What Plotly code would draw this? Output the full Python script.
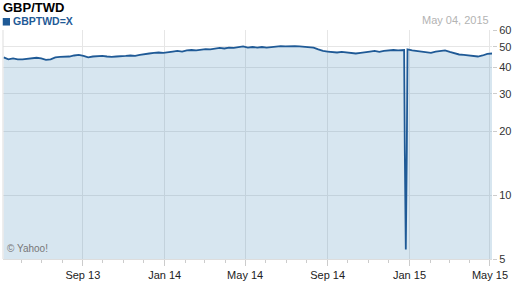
import math
import pandas as pd
import plotly.graph_objects as go

# ---- data ----
weekly_start = "2013-05-06"
rate_values = [
    44.6, 43.6, 44.1, 43.6, 43.6, 43.8, 44.3, 44.4, 44.1, 43.4,
    43.6, 44.6, 44.8, 44.8, 45.0, 45.5, 45.8, 45.3, 44.6, 45.0,
    45.3, 45.3, 45.0, 44.8, 45.0, 45.3, 45.3, 45.5, 45.3, 45.8,
    46.3, 46.5, 46.8, 47.0, 46.8, 47.3, 47.5, 47.8, 47.5, 48.1,
    48.3, 48.1, 48.6, 48.8, 48.6, 49.1, 49.4, 49.1, 49.6, 49.4,
    49.9, 50.2, 49.6, 49.9, 49.6, 49.9, 49.6, 49.9, 50.2, 50.4,
    50.2, 50.4, 50.4, 50.2, 49.9, 49.9, 49.6, 48.6, 47.8, 47.5,
    47.3, 47.0, 47.3, 47.0, 46.8, 46.5, 46.8, 47.3, 47.5, 47.8,
    47.3, 47.8, 48.1, 48.3, 48.1, 48.3, 48.6, 48.1, 47.8, 47.5,
    47.0, 46.8, 47.5, 47.8, 48.1, 47.3, 46.5, 46.0, 45.8, 45.5,
    45.3, 45.0, 45.5, 46.3, 46.5,
]
spike_dates = ["2014-12-24 00:00", "2014-12-25 00:00", "2014-12-26 12:00", "2014-12-28 00:00"]
spike_values = [48.3, 16.4, 5.55, 16.4]

x_tick_dates = ["2013-09-01", "2014-01-01", "2014-05-01", "2014-09-01", "2015-01-01", "2015-05-01"]
x_tick_labels = ["Sep 13", "Jan 14", "May 14", "Sep 14", "Jan 15", "May 15"]
y_tick_values = [5, 10, 20, 30, 40, 50, 60]
y_tick_labels = ["5", "10", "20", "30", "40", "50", "60"]

# ---- build series ----
weekly_dates = pd.date_range(weekly_start, periods=len(rate_values), freq="7D")
df = pd.concat([
    pd.DataFrame({"date": weekly_dates, "rate": rate_values}),
    pd.DataFrame({"date": pd.to_datetime(spike_dates), "rate": spike_values}),
]).sort_values("date")

FONT = "Liberation Sans, Arial, sans-serif"
BLUE = "#1f5a96"

fig = go.Figure()
fig.add_trace(go.Scatter(
    x=df["date"], y=df["rate"], mode="lines",
    line=dict(color=BLUE, width=1.8),
    fill="tozeroy", fillcolor="rgba(55,130,180,0.2)",
    showlegend=False, hoverinfo="skip",
))

fig.update_layout(
    width=512, height=288,
    margin=dict(l=3, r=20, t=30, b=29, autoexpand=False),
    paper_bgcolor="white", plot_bgcolor="white",
    font=dict(family=FONT),
    xaxis=dict(
        type="date", range=["2013-05-05", "2015-05-04"], automargin=False,
        tickmode="array", tickvals=x_tick_dates, ticktext=x_tick_labels,
        ticks="outside", ticklen=6, tickcolor="#cccccc",
        tickfont=dict(size=11, color="#222222", family=FONT),
        showgrid=True, gridcolor="#e6e6e6", gridwidth=1,
        showline=True, linecolor="#dddddd", linewidth=1,
        minor=dict(dtick="M1", tick0="2013-01-01", ticklen=3, tickcolor="#cccccc", showgrid=False),
        zeroline=False,
    ),
    yaxis=dict(
        type="log", side="right", automargin=False,
        range=[math.log10(5), math.log10(60)],
        tickmode="array", tickvals=y_tick_values, ticktext=y_tick_labels,
        ticks="outside", ticklen=4, tickcolor="#cccccc",
        tickfont=dict(size=11, color="#333333", family=FONT),
        showgrid=True, gridcolor="#e6e6e6", gridwidth=1,
        zeroline=False, showline=False,
    ),
    shapes=[
        dict(type="line", xref="paper", yref="paper", x0=0, x1=0, y0=0, y1=1,
             line=dict(color="#dddddd", width=1)),
        dict(type="rect", xref="paper", yref="paper",
             x0=-0.0005, x1=0.0143, y0=1.0195, y1=1.0524,
             line=dict(width=0), fillcolor=BLUE),
    ],
    annotations=[
        dict(text="<b>GBP/TWD</b>", xref="paper", yref="paper", x=-0.004, y=1.100,
             xanchor="left", yanchor="middle", showarrow=False,
             font=dict(size=13, color="#000000", family=FONT)),
        dict(text="<b>GBPTWD=X</b>", xref="paper", yref="paper", x=0.017, y=1.038,
             xanchor="left", yanchor="middle", showarrow=False,
             font=dict(size=10.5, color=BLUE, family=FONT)),
        dict(text="May 04, 2015", xref="paper", yref="paper", x=0.998, y=1.045,
             xanchor="right", yanchor="middle", showarrow=False,
             font=dict(size=11, color="#b3b3b3", family=FONT)),
        dict(text="© Yahoo!", xref="paper", yref="paper", x=0.004, y=0.044,
             xanchor="left", yanchor="middle", showarrow=False,
             font=dict(size=10, color="#777777", family=FONT)),
    ],
)

fig.write_html("out.html")
